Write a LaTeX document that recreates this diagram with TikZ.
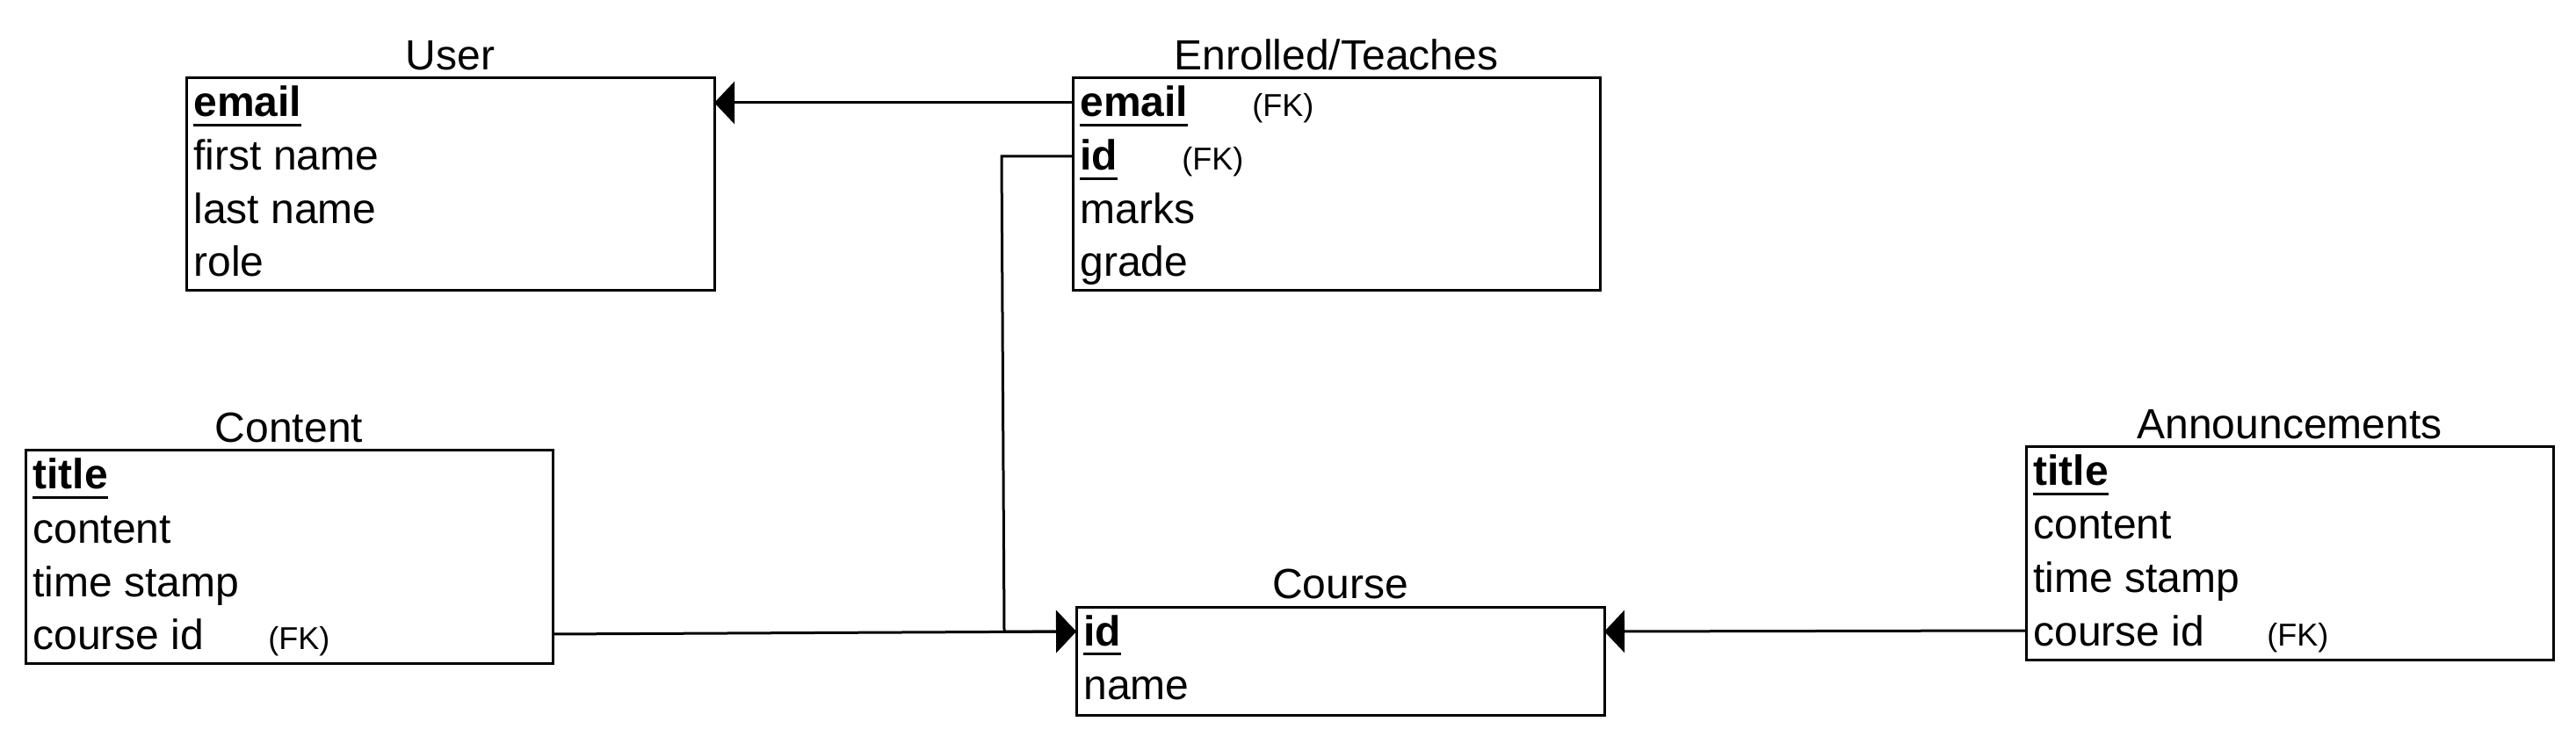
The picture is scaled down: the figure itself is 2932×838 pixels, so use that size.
\documentclass[tikz,border=0pt]{standalone}
\usepackage{fontspec}
\setmainfont{Liberation Sans}
\usetikzlibrary{arrows.meta}
\newcommand\keyfield[1]{\setbox0\hbox{\bfseries #1}\rlap{\rule[-5.3pt]{\wd0}{1.4pt}}\box0}
\tikzset{
  tablebox/.style={draw=black, line width=1.5pt},
  tabletitle/.style={anchor=base, inner sep=0pt, font=\fontsize{24}{28}\selectfont},
  field/.style={anchor=base west, inner sep=0pt, font=\fontsize{24}{28}\selectfont},
  fk/.style={anchor=base west, inner sep=0pt, font=\fontsize{18}{21}\selectfont},
  link/.style={line width=1.5pt, line join=miter},
  fkarrow/.style={link, -{Triangle[length=11.5pt,width=24pt]}},
}
\begin{document}
\begin{tikzpicture}[x=0.5pt,y=-0.5pt]
\useasboundingbox (0,0) rectangle (2932,838);

% ---------- User ----------
\draw[tablebox] (212,89) rectangle (813,331);
\coordinate (userE) at (813,117);
\node[tabletitle] (userT) at (512.5,80) {User};
\node[field] (u1) at (220,133) {\keyfield{email}};
\node[field] (u2) at (220,194) {first name};
\node[field] (u3) at (220,255) {last name};
\node[field] (u4) at (220,315) {role};

% ---------- Enrolled/Teaches ----------
\draw[tablebox] (1221,89) rectangle (1821,331);
\coordinate (enrEmail) at (1221,117);
\coordinate (enrId) at (1221,178);
\node[tabletitle] (enrT) at (1521,80) {Enrolled/Teaches};
\node[field] (e1) at (1229,133) {\keyfield{email}};
\node[fk] (e1fk) at (1425,133) {(FK)};
\node[field] (e2) at (1229,194) {\keyfield{id}};
\node[fk] (e2fk) at (1345,194) {(FK)};
\node[field] (e3) at (1229,255) {marks};
\node[field] (e4) at (1229,315) {grade};

% ---------- Content ----------
\draw[tablebox] (29,513) rectangle (629,755);
\coordinate (contE) at (629,722);
\node[tabletitle] (contT) at (329,504) {Content};
\node[field] (c1) at (37,557) {\keyfield{title}};
\node[field] (c2) at (37,618) {content};
\node[field] (c3) at (37,679) {time stamp};
\node[field] (c4) at (37,739) {course id};
\node[fk] (c4fk) at (305,739) {(FK)};

% ---------- Course ----------
\draw[tablebox] (1225,691) rectangle (1826,814);
\coordinate (courseW) at (1225,719);
\coordinate (courseE) at (1826,719);
\node[tabletitle] (courseT) at (1525.5,682) {Course};
\node[field] (k1) at (1233,735) {\keyfield{id}};
\node[field] (k2) at (1233,796) {name};

% ---------- Announcements ----------
\draw[tablebox] (2306,509) rectangle (2906,751);
\coordinate (annW) at (2306,718);
\node[tabletitle] (annT) at (2606,500) {Announcements};
\node[field] (a1) at (2314,553) {\keyfield{title}};
\node[field] (a2) at (2314,614) {content};
\node[field] (a3) at (2314,675) {time stamp};
\node[field] (a4) at (2314,735) {course id};
\node[fk] (a4fk) at (2580,735) {(FK)};

% ---------- connectors ----------
\coordinate (bendTop) at (1140,178);
\coordinate (bendBot) at (1143,719);
\draw[fkarrow] (enrEmail) -- (userE);
\draw[fkarrow] (enrId) -- (bendTop) -- (bendBot) -- (courseW);
\draw[fkarrow] (contE) -- (courseW);
\draw[fkarrow] (annW) -- (courseE);
\end{tikzpicture}
\end{document}
